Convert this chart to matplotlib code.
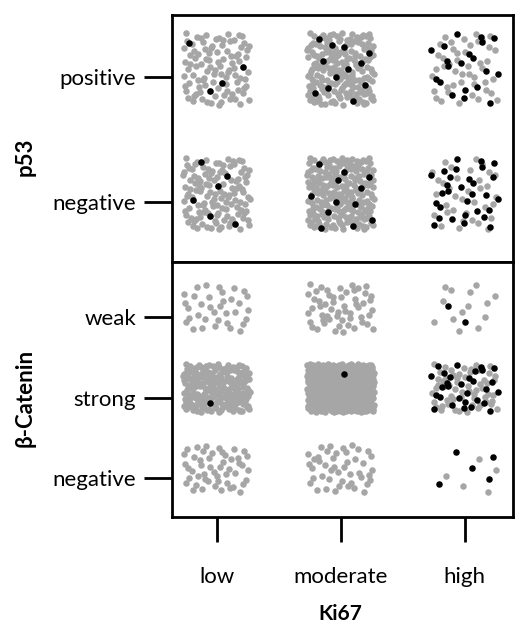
import numpy as np
import matplotlib.pyplot as plt

plt.rcParams['font.family'] = ['Lato', 'DejaVu Sans']

ki67 = ["low", "moderate", "high"]
p53_levels = ["negative", "positive"]
cat_levels = ["negative", "strong", "weak"]

# point counts per cell, rows follow the level lists, columns follow ki67
p53_gray = [[130, 220, 35], [100, 200, 45]]
p53_black = [[6, 12, 30], [4, 12, 20]]
cat_gray = [[50, 45, 5], [200, 500, 60], [35, 55, 14]]
cat_black = [[0, 0, 5], [1, 1, 30], [0, 0, 2]]

GRAY = "#a6a6a6"


def halton(n, base, start):
    out = []
    for i in range(start, start + n):
        f, r, k = 1.0, 0.0, i
        while k > 0:
            f /= base
            r += f * (k % base)
            k //= base
        out.append(r)
    return np.array(out)


def jitter(n, cx, cy, wx, wy, start):
    # fixed, even spread of n points inside one cell (no randomness)
    u = halton(n, 2, start)
    v = halton(n, 3, start)
    return cx + (u - 0.5) * 2 * wx, cy + (v - 0.5) * 2 * wy


fig = plt.figure(figsize=(5.15, 6.24), dpi=100)
ax1 = fig.add_axes([172 / 515, 1 - 262 / 624, 341 / 515, 247 / 624])
ax2 = fig.add_axes([172 / 515, 1 - 517 / 624, 341 / 515, 255 / 624])


def draw(ax, gray, black, wy, dy):
    for r in range(len(gray)):
        for c in range(3):
            x, y = jitter(gray[r][c], c + 1, r + 1 + dy, 0.27, wy, 1 + 7 * r + 13 * c)
            ax.scatter(x, y, s=22, color=GRAY, linewidths=0, zorder=2)
            x, y = jitter(black[r][c], c + 1, r + 1 + dy, 0.27, wy, 97 + 5 * r + 11 * c)
            ax.scatter(x, y, s=22, color="black", linewidths=0, zorder=3)


draw(ax1, p53_gray, p53_black, 0.29, 0.07)
draw(ax2, cat_gray, cat_black, 0.3, 0.12)

ax1.set_ylim(0.52, 2.5)
ax2.set_ylim(0.51, 3.69)
for ax in (ax1, ax2):
    ax.set_xlim(0.64, 3.39)
    for s in ax.spines.values():
        s.set_linewidth(2)
    ax.tick_params(axis="y", length=20, width=2, labelsize=16, pad=6)

ax1.set_yticks([1, 2], p53_levels)
ax2.set_yticks([1, 2, 3], cat_levels)
ax1.set_xticks([])
ax2.set_xticks([1, 2, 3], ki67)
ax2.tick_params(axis="x", length=18, width=2, labelsize=16, pad=18)

fig.text(25 / 515, 1 - 157 / 624, "p53", rotation=90, ha="center", va="center",
         fontsize=16, fontweight="bold")
fig.text(25 / 515, 1 - 398 / 624, "β-Catenin", rotation=90, ha="center", va="center",
         fontsize=16, fontweight="bold")
fig.text(340 / 515, 1 - 614 / 624, "Ki67", ha="center", va="center",
         fontsize=15, fontweight="bold")

fig.savefig("out.png", dpi=100)
